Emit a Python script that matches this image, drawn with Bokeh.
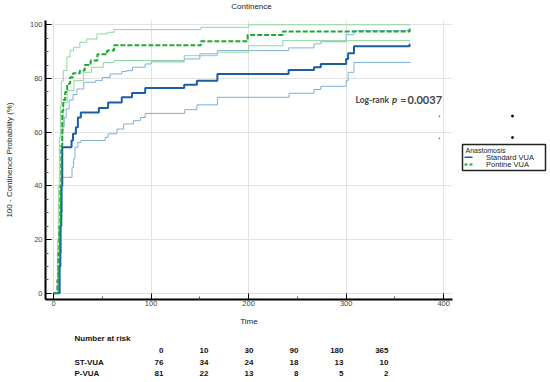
from bokeh.plotting import figure
from bokeh.models import Range1d, Label, FixedTicker
from bokeh.layouts import column, row
from bokeh.core.properties import value
from bokeh.embed import file_html
from bokeh.resources import INLINE

# ---- data ----
st_time = [0, 5, 6, 7, 8, 9, 18.5, 20, 23, 25, 28, 46.5, 56, 70, 80.5, 94, 134, 147, 168, 241, 267, 274, 300, 302, 308, 365]
st_surv = [0, 0, 10, 25, 40, 54.4, 56.9, 59.4, 61.8, 65.5, 67.3, 69, 71.1, 73, 74.6, 76.5, 77.7, 79.2, 81.7, 83.2, 84.2, 85.4, 87.3, 89.4, 92, 92.9]

st_lo_time = [0, 6, 7, 8, 9, 19, 20.5, 22, 25, 28, 53, 56, 65, 72, 82, 89, 94, 134.5, 147, 168, 241.5, 267, 274, 300, 302, 308, 366]
st_lo = [0, 0, 15, 30, 43.2, 46.9, 50, 54.4, 56.2, 56.9, 58.1, 59.4, 61.2, 63.1, 64.3, 65.5, 67, 68.4, 70.2, 73, 74.5, 75.9, 77.1, 79.2, 82.3, 86, 86]

st_hi_time = [0, 5, 6, 7, 8, 9, 11, 13, 16, 20, 24, 31, 43, 50, 58, 70, 75, 81, 94, 100, 134, 150, 168, 241, 267, 274, 300, 308, 366]
st_hi = [0, 0, 18, 35, 50, 62, 65.5, 68.7, 72, 74, 76.1, 78.6, 79.2, 80.4, 81.7, 82.6, 82.9, 84.2, 85.4, 86.2, 87.3, 89.2, 90.4, 91.4, 92.9, 93.7, 96.3, 97.8, 97.8]

p_time = [0, 3, 4, 5, 6, 7, 8, 9, 10, 12, 14, 17, 20, 27, 32, 38, 45, 55, 62, 151, 199, 235, 365]
p_surv = [0, 0, 5, 15, 25, 40, 55, 68, 72, 75, 78, 80.5, 82, 83, 85, 86.7, 89, 90.4, 92.4, 93.9, 96.2, 97.5, 98.7]

p_hi_time = [0, 3, 4, 5, 6, 7, 8, 10, 13.7, 17, 20.5, 27, 34, 44.5, 55, 62, 151, 200, 366]
p_hi = [0, 0, 20, 40, 58, 70, 79, 83, 88, 90.4, 91.6, 93.5, 94.7, 96.6, 97.2, 98.2, 99.1, 100, 100]

p_lo_time = [0, 4, 6, 8, 9, 10, 14, 21, 31, 39, 51, 62, 134, 168, 200, 235, 366]
p_lo = [0, 0, 20, 45, 60, 71, 75.5, 79.2, 82.3, 84.2, 86, 86.7, 88.5, 89.8, 92.2, 94.1, 94.1]

risk_times = ["0", "10", "30", "90", "180", "365"]
risk_st = ["76", "34", "24", "18", "13", "10"]
risk_p = ["81", "22", "13", "8", "5", "2"]
group_labels = ["ST-VUA", "P-VUA"]
legend_title = "Anastomosis"
legend_labels = ["Standard VUA", "Pontine VUA"]
chart_title = "Continence"
p_value = "0.0037"

# ---- styles ----
BLUE = "#1b5ea6"
LBLUE = "#7fb0da"
GREEN = "#1fa833"
LGREEN = "#8fd89b"
FONT = "Liberation Sans"

HEAD_H, MAIN_W, SIDE_W, TOP_H, TAB_H = 14, 454, 94, 316, 52
BORDER_T, BORDER_B = 6, 31
FULL_W = MAIN_W + SIDE_W
FRAME_TOP = HEAD_H + BORDER_T            # page y of the plot frame top
FRAME_BOT = HEAD_H + TOP_H - BORDER_B    # page y of the plot frame bottom

# ---- title strip ----
head = figure(width=FULL_W, height=HEAD_H, output_backend="svg", toolbar_location=None,
              x_range=Range1d(0, FULL_W), y_range=Range1d(HEAD_H, 0),
              x_axis_location=None, y_axis_location=None, min_border=0)
head.outline_line_color = None
head.grid.visible = False
head.text(x=[251], y=[6], text=[chart_title], text_font=value(FONT), text_font_size="8px",
          text_baseline="middle", text_align="center", text_color="#222222")

# ---- main plot ----
p = figure(width=MAIN_W, height=TOP_H, output_backend="svg", toolbar_location=None,
           x_range=Range1d(-8.2, 409), y_range=Range1d(-2.3, 101.6),
           min_border_left=45, min_border_right=2, min_border_top=BORDER_T, min_border_bottom=BORDER_B)
p.outline_line_color = None

for ax in (p.xaxis[0], p.yaxis[0]):
    ax.axis_line_color = "black"
    ax.axis_line_width = 2
    ax.major_tick_line_color = "black"
    ax.minor_tick_line_color = "#555555"
    ax.major_tick_in = 6
    ax.major_tick_out = 0
    ax.minor_tick_in = 3
    ax.minor_tick_out = 0
    ax.major_label_text_font = FONT
    ax.major_label_text_font_size = "7.5px"
    ax.major_label_text_color = "#444444"
    ax.axis_label_text_font = FONT
    ax.axis_label_text_font_size = "8px"
    ax.axis_label_text_font_style = "normal"
    ax.axis_label_text_color = "#222222"

p.xaxis.ticker = FixedTicker(ticks=[0, 100, 200, 300, 400], minor_ticks=[50, 150, 250, 350])
p.yaxis.ticker = FixedTicker(ticks=[0, 20, 40, 60, 80, 100],
                             minor_ticks=[v for v in range(0, 101, 5) if v % 20])
p.xaxis.axis_label = "Time"
p.yaxis.axis_label = "100 - Continence Probability (%)"
p.xaxis.major_label_standoff = 1
p.xaxis.axis_label_standoff = 8
p.yaxis.major_label_standoff = 3
p.yaxis.axis_label_standoff = 13

p.xgrid.grid_line_color = "#e3e3e3"
p.ygrid.grid_line_color = "#e3e3e3"

# ---- curves ----
p.step(st_lo_time, st_lo, mode="after", line_color=LBLUE, line_width=1)
p.step(st_hi_time, st_hi, mode="after", line_color=LBLUE, line_width=1)
p.step(p_lo_time, p_lo, mode="after", line_color=LGREEN, line_width=1)
p.step(p_hi_time, p_hi, mode="after", line_color=LGREEN, line_width=1)
p.step(st_time, st_surv, mode="after", line_color=BLUE, line_width=2)
p.step(p_time, p_surv, mode="after", line_color=GREEN, line_width=2, line_dash="5 2")

# ---- log-rank annotation ----
LR = "Lato"
LB = dict(x_units="screen", y_units="screen", text_font=LR, text_baseline="middle", text_align="left")
p.add_layout(Label(x=310, y=200, text="Log-rank", text_font_style="bold", text_font_size="8.5px", **LB))
p.add_layout(Label(x=346.5, y=200, text="p", text_font_style="bold italic", text_font_size="9.5px", **LB))
p.add_layout(Label(x=355, y=200, text="=", text_font_style="bold", text_font_size="10px", **LB))
p.add_layout(Label(x=362, y=200, text=p_value, text_font_style="bold", text_font_size="11px", **LB))
for (dx, dy) in [(394, 183.4), (394, 162)]:
    p.add_layout(Label(x=dx, y=dy, x_units="screen", y_units="screen", text="•",
                       text_font=FONT, text_font_size="5px",
                       text_baseline="middle", text_align="center"))

# ---- side panel: legend + marks (page pixel coordinates, y down) ----
# the row aligns this figure's frame with the main plot's frame
side = figure(width=SIDE_W, height=TOP_H, output_backend="svg", toolbar_location=None,
              x_range=Range1d(0, SIDE_W), y_range=Range1d(FRAME_BOT, FRAME_TOP),
              x_axis_location=None, y_axis_location=None, min_border=0)
side.outline_line_color = None
side.grid.visible = False
side.quad(left=[8], right=[91], top=[144], bottom=[170], fill_color="white",
          line_color="#222222", line_width=1.5)
side.text(x=[11], y=[150], text=[legend_title], text_font=value(FONT), text_font_size="7px",
          text_baseline="middle", text_align="left", text_color="#222222")
side.segment(x0=[10], y0=[156.7], x1=[18], y1=[156.7], line_color=BLUE, line_width=1.5)
side.segment(x0=[10], y0=[164], x1=[18], y1=[164], line_color=GREEN, line_width=2, line_dash="3 2")
side.text(x=[31.5, 31.5], y=[156.7, 164], text=legend_labels, text_font=value(FONT),
          text_font_size="7.5px", text_baseline="middle", text_align="left", text_color="#222222")
side.scatter(x=[58, 58], y=[115.6, 137], size=2, color="black")

# ---- number at risk table ----
t = figure(width=FULL_W, height=TAB_H, output_backend="svg", toolbar_location=None,
           x_range=Range1d(0, FULL_W), y_range=Range1d(TAB_H, 0),
           x_axis_location=None, y_axis_location=None, min_border=0)
t.outline_line_color = None
t.grid.visible = False
TXT = dict(text_font=value(FONT), text_font_style="bold", text_font_size="8px",
           text_baseline="middle", text_color="#111111")
row_y = [8, 20, 31.7, 43]
col_x = [163, 208, 253, 298, 343, 388]
t.text(x=[74], y=[row_y[0]], text=["Number at risk"], text_align="left", **TXT)
t.text(x=col_x, y=[row_y[1]] * 6, text=risk_times, text_align="right", **TXT)
t.text(x=col_x, y=[row_y[2]] * 6, text=risk_st, text_align="right", **TXT)
t.text(x=col_x, y=[row_y[3]] * 6, text=risk_p, text_align="right", **TXT)
t.text(x=[74, 74], y=row_y[2:], text=group_labels, text_align="left", **TXT)

layout = column(head, row(p, side), t)
open("out.html", "w").write(file_html(layout, INLINE))
